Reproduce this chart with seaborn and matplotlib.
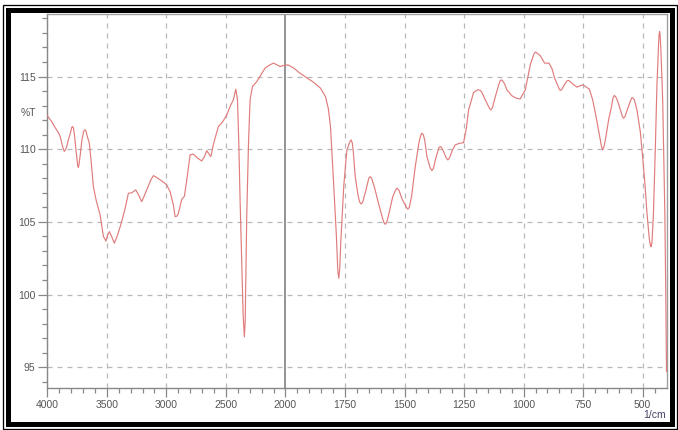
import numpy as np
import pandas as pd
import matplotlib
matplotlib.use("Agg")
import matplotlib.pyplot as plt
import seaborn as sns
from matplotlib.patches import Rectangle

# ---- data ----
wavenumber = [
    4000, 3963, 3935, 3907, 3893, 3875, 3865, 3857, 3848, 3840,
    3823, 3800, 3795, 3787, 3780, 3772, 3760, 3748, 3744, 3739,
    3733, 3725, 3710, 3695, 3690, 3683, 3675, 3668, 3647, 3630,
    3613, 3590, 3557, 3540, 3529, 3507, 3493, 3479, 3460, 3437,
    3410, 3383, 3347, 3319, 3291, 3257, 3230, 3207, 3185, 3165,
    3130, 3109, 3080, 3053, 3020, 2997, 2969, 2941, 2927, 2910,
    2899, 2871, 2849, 2830, 2801, 2773, 2740, 2703, 2680, 2661,
    2645, 2627, 2600, 2563, 2526, 2493, 2459, 2437, 2417, 2403,
    2392, 2381, 2365, 2355, 2345, 2338, 2335, 2325, 2310, 2297,
    2277, 2240, 2200, 2171, 2130, 2101, 2070, 2045, 2020, 1990,
    1965, 1945, 1923, 1900, 1881, 1853, 1832, 1820, 1811, 1797,
    1786, 1780, 1776, 1772, 1768, 1755, 1742, 1730, 1724, 1719,
    1715, 1707, 1695, 1688, 1682, 1676, 1665, 1650, 1644, 1638,
    1625, 1609, 1595, 1588, 1581, 1574, 1565, 1550, 1540, 1532,
    1524, 1511, 1492, 1486, 1480, 1470, 1455, 1440, 1433, 1427,
    1421, 1415, 1406, 1392, 1385, 1378, 1370, 1356, 1350, 1344,
    1335, 1325, 1318, 1311, 1300, 1287, 1270, 1252, 1240, 1231,
    1210, 1197, 1189, 1182, 1175, 1161, 1143, 1137, 1131, 1119,
    1105, 1099, 1094, 1088, 1080, 1070, 1049, 1030, 1014, 993,
    972, 960, 955, 949, 943, 930, 912, 893, 880, 870,
    852, 846, 840, 830, 818, 811, 804, 795, 776, 751,
    724, 710, 696, 680, 673, 668, 662, 655, 643, 630,
    625, 619, 613, 605, 590, 585, 580, 574, 565, 552,
    545, 540, 535, 524, 510, 503, 490, 482, 472, 468,
    465, 461, 455, 447, 440, 433, 431, 429, 427, 424,
    416, 410, 407, 403, 400,
]
transmittance = [
    112.3, 111.9, 111.5, 111.14, 110.9, 110.3, 110.0, 109.85, 109.95, 110.1,
    110.64, 111.3, 111.5, 111.56, 111.45, 111.0, 110.0, 109.1, 108.85, 108.75,
    109.0, 109.5, 110.6, 111.2, 111.3, 111.33, 111.25, 111.0, 110.4, 109.0,
    107.42, 106.5, 105.5, 104.6, 104.0, 103.68, 104.1, 104.33, 104.0, 103.53,
    104.1, 104.8, 105.9, 106.97, 107.0, 107.2, 106.8, 106.39, 106.8, 107.2,
    107.9, 108.18, 108.05, 107.89, 107.7, 107.54, 107.08, 106.16, 105.36, 105.4,
    105.59, 106.56, 106.75, 107.8, 109.61, 109.66, 109.4, 109.19, 109.5, 109.9,
    109.7, 109.49, 110.5, 111.56, 111.9, 112.36, 113.05, 113.4, 114.13, 113.4,
    110.5, 106.5, 101.5, 98.5, 97.09, 98.2, 100.0, 105.47, 110.5, 113.4,
    114.31, 114.66, 115.2, 115.58, 115.8, 115.92, 115.8, 115.69, 115.75, 115.8,
    115.58, 115.3, 115.05, 114.8, 114.59, 114.2, 113.62, 112.8, 111.56, 107.42,
    104.0, 101.6, 101.12, 101.8, 103.5, 107.5, 109.95, 110.5, 110.64, 110.4,
    109.8, 108.11, 106.8, 106.35, 106.23, 106.35, 107.0, 108.0, 108.11, 108.0,
    107.3, 106.25, 105.4, 105.0, 104.83, 105.0, 105.6, 106.7, 107.1, 107.31,
    107.2, 106.6, 106.0, 105.87, 106.0, 106.8, 108.8, 110.4, 110.9, 111.1,
    111.0, 110.6, 109.49, 108.7, 108.53, 108.7, 109.3, 110.1, 110.18, 110.1,
    109.8, 109.4, 109.26, 109.4, 109.9, 110.3, 110.4, 110.45, 111.5, 112.7,
    113.9, 114.05, 114.08, 114.05, 113.9, 113.4, 112.8, 112.7, 112.85, 113.6,
    114.4, 114.7, 114.77, 114.7, 114.5, 114.08, 113.67, 113.5, 113.46, 114.08,
    115.8, 116.4, 116.6, 116.68, 116.6, 116.43, 115.92, 115.92, 115.5, 114.89,
    114.2, 114.04, 114.1, 114.4, 114.7, 114.73, 114.65, 114.5, 114.27, 114.43,
    114.13, 113.4, 112.25, 110.8, 110.2, 109.95, 110.2, 110.8, 112.02, 113.0,
    113.5, 113.7, 113.6, 113.3, 112.5, 112.25, 112.13, 112.25, 112.7, 113.3,
    113.55, 113.5, 113.4, 112.7, 111.2, 109.95, 107.5, 105.6, 103.8, 103.4,
    103.29, 103.6, 105.5, 110.0, 114.5, 117.3, 117.9, 118.1, 117.9, 117.0,
    113.4, 108.0, 105.6, 100.0, 94.7,
]
major_xticks = [4000, 3500, 3000, 2500, 2000, 1750, 1500, 1250, 1000, 750, 500]
major_yticks = [95, 100, 105, 110, 115]

df = pd.DataFrame({"wn": wavenumber, "T": transmittance})

W, H = 678, 430
fig = plt.figure(figsize=(W / 100, H / 100), dpi=100)
left, right, top, bottom = 47.3, 666.5, 14.0, 388.3
ax = fig.add_axes([left / W, 1 - bottom / H, (right - left) / W, (bottom - top) / H])


def fwd(x):
    x = np.asarray(x, dtype=float)
    return np.where(x > 2000, 1000 + x / 2.0, x)


def inv(y):
    y = np.asarray(y, dtype=float)
    return np.where(y > 2000, 2.0 * (y - 1000), y)


ax.set_xscale("function", functions=(fwd, inv))

sns.lineplot(data=df, x="wn", y="T", ax=ax, color="#e07c7c", linewidth=0.85,
             estimator=None, sort=False, zorder=5)
ax.lines[-1].set_solid_joinstyle("round")

ax.set_xlim(4000, 400)
ax.set_ylim(93.55, 119.3)

ax.set_xticks(major_xticks)
ax.set_xticklabels([str(t) for t in major_xticks])
minor_x = [v for v in range(3900, 2000, -100) if v % 500 != 0] + \
          [v for v in range(1950, 400, -50) if v % 250 != 0]
ax.set_xticks(minor_x, minor=True)
ax.set_yticks(major_yticks)
ax.set_yticklabels([str(t) for t in major_yticks])
ax.set_yticks(list(range(94, 120)), minor=True)

ax.set_xlabel("")
ax.set_ylabel("")

tick_col = "#888888"
ax.tick_params(axis="both", which="major", length=6.5, width=0.9, color=tick_col,
               labelsize=7.5, labelcolor="#555555", pad=2)
ax.tick_params(axis="both", which="minor", length=3.6, width=0.9, color=tick_col)
for lab in ax.get_xticklabels() + ax.get_yticklabels():
    lab.set_fontfamily("Liberation Sans")

for s in ["left", "bottom"]:
    ax.spines[s].set_color("#888888")
    ax.spines[s].set_linewidth(1.0)
for s in ["top", "right"]:
    ax.spines[s].set_color("#a0a0a0")
    ax.spines[s].set_linewidth(1.0)

# grid
for t in major_xticks:
    if t == 2000:
        ax.axvline(t, color="#8a8a8a", lw=1.3, zorder=2)
    else:
        ax.axvline(t, color="#b8b8b8", lw=0.9, ls=(0, (4, 4)), zorder=1)
for t in major_yticks:
    ax.axhline(t, color="#b8b8b8", lw=0.9, ls=(0, (4, 4)), zorder=1)

fig.text(36 / W, 1 - 113 / H, "%T", ha="right", va="center", fontsize=7.5,
         color="#555555", family="Liberation Sans")
fig.text(666 / W, 1 - 414.5 / H, "1/cm", ha="right", va="center", fontsize=7.5,
         color="#444466", family="Liberation Sans")

# double black frame around the whole picture
def frame(x0, y0, x1, y1, lw_px):
    fig.add_artist(Rectangle((x0 / W, 1 - y1 / H), (x1 - x0) / W, (y1 - y0) / H,
                             transform=fig.transFigure, fill=False, edgecolor="black",
                             linewidth=lw_px * 0.72, zorder=10))

frame(8.0, 9.5, 671.5, 424.2, 5.0)
frame(2.5, 4.5, 676.5, 428.5, 1.3)

fig.savefig("out.png", dpi=100)
